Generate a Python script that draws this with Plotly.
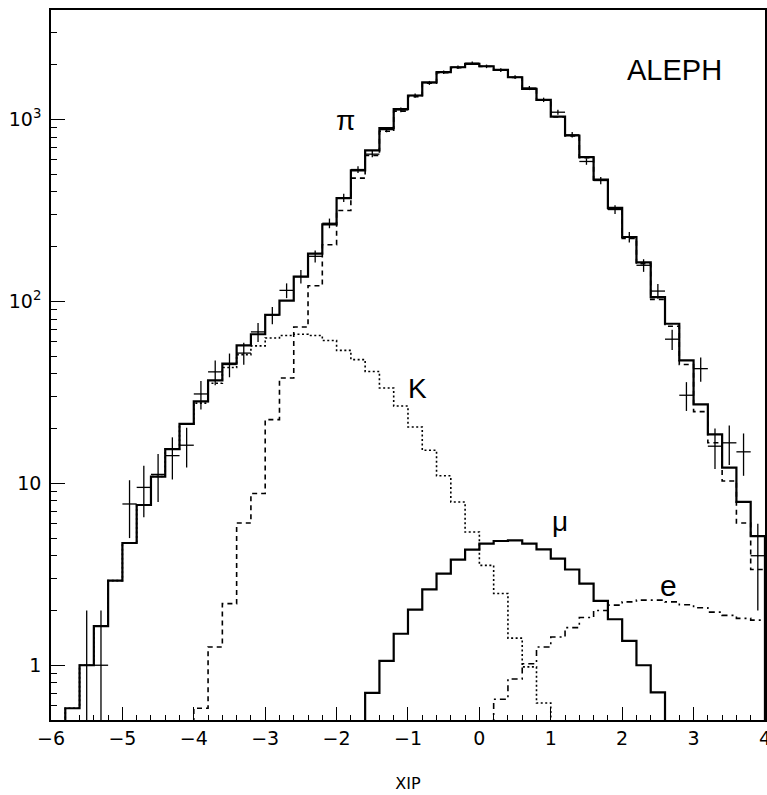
import numpy as np
import plotly.graph_objects as go

BIN_W = 0.2

# Histogram contents (bin lower edge of first bin, then contents per 0.2 bin)
total_start = -5.8
total_vals = [0.58, 1.0, 1.64, 2.92, 4.7, 7.6, 10.9, 15.4, 21.2, 28.2,
              36.8, 45.5, 57.3, 66, 84.5, 101, 137, 183, 265, 370,
              525, 676, 896, 1140, 1355, 1603, 1820, 1938, 2023, 1963,
              1875, 1708, 1474, 1283, 1038, 817, 621, 468, 327, 226,
              164, 105.6, 75.4, 47.4, 27.2, 18.6, 12.2, 7.9, 5.13]

pion_start = -4.0
pion_vals = [0.58, 1.26, 2.18, 6.05, 8.8, 22.4, 37.9, 72.3, 122, 205,
             316, 476, 634, 862, 1112, 1333, 1585, 1806, 1926, 2013,
             1955, 1867, 1701, 1467, 1277, 1033, 812, 616, 464, 323,
             222, 161, 102.6, 73, 45, 24.8, 16.7, 10.3, 6.05, 3.36]

kaon_start = -5.8
kaon_vals = [0.58, 1.0, 1.64, 2.92, 4.7, 7.6, 10.9, 15.4, 21.2, 27.6,
             35.5, 43.3, 51, 57, 63, 65, 66, 65, 61, 53.8,
             47.9, 41.2, 33.4, 26.6, 20.4, 15.2, 11.0, 7.9, 5.4, 3.54,
             2.48, 1.41, 0.98, 0.62]

muon_start = -1.6
muon_vals = [0.705, 1.056, 1.49, 2.02, 2.61, 3.19, 3.81, 4.32, 4.66, 4.82,
             4.86, 4.66, 4.34, 3.86, 3.36, 2.81, 2.26, 1.79, 1.36, 1.0, 0.71]

elec_start = 0.2
elec_vals = [0.65, 0.84, 1.02, 1.26, 1.43, 1.61, 1.83, 2.0, 2.14, 2.23,
             2.28, 2.28, 2.23, 2.15, 2.07, 1.96, 1.88, 1.81, 1.77]

# Data points (bin centres, counts, errors)
data_x = [-5.5, -5.3, -4.9, -4.7, -4.5, -4.3, -4.1, -3.9, -3.7, -3.5,
          -3.3, -3.1, -2.9, -2.7, -2.5, -2.3, -2.1, -1.9, -1.7, -1.5,
          -1.3, -1.1, -0.9, -0.7, -0.5, -0.3, -0.1, 0.1, 0.3, 0.5,
          0.7, 0.9, 1.1, 1.3, 1.5, 1.7, 1.9, 2.1, 2.3, 2.5,
          2.7, 2.9, 3.1, 3.3, 3.5, 3.7, 3.9]
data_y = [1.0, 1.0, 7.7, 9.5, 11.2, 14.2, 16.2, 31, 41, 45,
          52, 68, 84, 115, 137, 177, 269, 371, 531, 645,
          880, 1130, 1355, 1590, 1820, 1940, 2040, 1960, 1870, 1710,
          1490, 1283, 1097, 824, 588, 462, 320, 226, 158, 114,
          62, 30.5, 42.7, 16, 16.7, 14.9, 4.0]
data_err_up = [1, 1, 2.7, 3, 3.3, 3.7, 4, 5.5, 6.4, 6.7,
               7.2, 8.2, 9.2, 10.7, 11.7, 13.3, 16.4, 19.3, 23, 25.4,
               29.7, 33.6, 36.8, 39.9, 42.7, 44, 45.2, 44.3, 43.2, 41.4,
               38.6, 35.8, 33.1, 28.7, 24.2, 21.5, 17.9, 15, 12.6, 10.7,
               7.9, 5.5, 6.5, 4, 4.1, 3.9, 2]
data_err_dn = [0.999, 0.999, 2.7, 3, 3.3, 3.7, 4, 5.5, 6.4, 6.7,
               7.2, 8.2, 9.2, 10.7, 11.7, 13.3, 16.4, 19.3, 23, 25.4,
               29.7, 33.6, 36.8, 39.9, 42.7, 44, 45.2, 44.3, 43.2, 41.4,
               38.6, 35.8, 33.1, 28.7, 24.2, 21.5, 17.9, 15, 12.6, 10.7,
               7.9, 5.5, 6.5, 4, 4.1, 3.9, 2]

x_ticks = [-6, -5, -4, -3, -2, -1, 0, 1, 2, 3, 4]
x_ticktext = ["\u22126", "\u22125", "\u22124", "\u22123", "\u22122", "\u22121",
              "0", "1", "2", "3", "4"]
y_ticks = [1, 10, 100, 1000]
y_ticktext = ["1", "10", "10<sup>2</sup>", "10<sup>3</sup>"]

FLOOR = 0.01


def step_xy(start, vals):
    n = len(vals)
    edges = np.round(start + BIN_W * np.arange(n + 1), 3)
    xs = [edges[0]] + list(edges[:n]) + [edges[n]]
    ys = [FLOOR] + list(vals) + [FLOOR]
    return xs, ys


fig = go.Figure()


def add_hist(start, vals, width, dash):
    xs, ys = step_xy(start, vals)
    fig.add_trace(go.Scatter(x=xs, y=ys, mode="lines", line_shape="hv",
                             line=dict(color="black", width=width, dash=dash),
                             showlegend=False, hoverinfo="skip"))


add_hist(kaon_start, kaon_vals, 1.6, "2px,2.5px")
add_hist(elec_start, elec_vals, 1.6, "6px,4px,2px,4px")
add_hist(pion_start, pion_vals, 1.6, "5px,4px")
add_hist(muon_start, muon_vals, 2.2, "solid")
add_hist(total_start, total_vals, 2.2, "solid")

fig.add_trace(go.Scatter(
    x=data_x, y=data_y, mode="markers",
    marker=dict(size=1, color="black"),
    error_y=dict(type="data", symmetric=False, array=data_err_up,
                 arrayminus=data_err_dn, color="black", thickness=1.3, width=0),
    error_x=dict(type="constant", value=0.1, color="black", thickness=1.3, width=0),
    showlegend=False, hoverinfo="skip"))

font_fam = "DejaVu Sans, Liberation Sans, Arial, sans-serif"
label_fam = "Liberation Sans, Arial, sans-serif"

fig.update_layout(
    width=767, height=795,
    margin=dict(l=51, r=2, t=10, b=75),
    paper_bgcolor="white", plot_bgcolor="white",
    font=dict(family=font_fam, size=19, color="black"),
    xaxis=dict(range=[-6, 4.0005], tickmode="array", tickvals=x_ticks,
               ticktext=x_ticktext, ticks="inside", ticklen=13,
               tickwidth=1.3, tickcolor="black", showline=True, linecolor="black",
               linewidth=1.5, mirror=True, showgrid=False, zeroline=False,
               tickfont=dict(size=19, family=font_fam),
               ticklabeloverflow="allow", automargin=False,
               minor=dict(dtick=0.2, tick0=0, ticks="inside", ticklen=5,
                          tickwidth=1.2, tickcolor="black", showgrid=False),
               title=dict(text="XIP", font=dict(size=16, family=font_fam),
                          standoff=30)),
    yaxis=dict(type="log", range=[np.log10(0.5), np.log10(4000)],
               tickmode="array", tickvals=y_ticks, ticktext=y_ticktext,
               ticks="inside", ticklen=14,
               tickwidth=1.3, tickcolor="black", showline=True, linecolor="black",
               linewidth=1.5, mirror=True, showgrid=False, zeroline=False,
               tickfont=dict(size=19, family=font_fam), ticklabelstandoff=4,
               ticklabeloverflow="allow", automargin=False,
               minor=dict(tickmode="array",
                          tickvals=[0.6, 0.7, 0.8, 0.9,
                                    2, 3, 4, 5, 6, 7, 8, 9,
                                    20, 30, 40, 50, 60, 70, 80, 90,
                                    200, 300, 400, 500, 600, 700, 800, 900,
                                    2000, 3000],
                          ticks="inside", ticklen=6, tickwidth=1.2,
                          tickcolor="black", showgrid=False)),
)

labels = [("ALEPH", 2.73, 3.27, 29), ("\u03c0", -1.88, 2.995, 28),
          ("K", -0.86, 1.522, 28), ("\u03bc", 1.13, 0.79, 28), ("e", 2.65, 0.44, 30)]
for txt, lx, ly, sz in labels:
    fig.add_annotation(x=lx, y=ly, text=txt, showarrow=False,
                       font=dict(size=sz, family=label_fam, color="black"))

fig.write_html("out.html")
